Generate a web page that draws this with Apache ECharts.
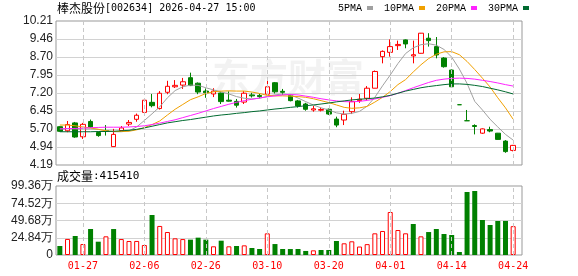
<!DOCTYPE html>
<html>
<head>
<meta charset="utf-8">
<script src="https://cdn.jsdelivr.net/npm/echarts@6/dist/echarts.min.js"></script>
<style>
  html, body { margin: 0; padding: 0; background: #fff; }
  #chart { width: 578px; height: 276px; }
</style>
</head>
<body>
<div id="chart"></div>
<script>
const dates = ['01-22','01-23','01-26','01-27','01-28','01-29','01-30','02-02','02-03','02-04',
  '02-05','02-06','02-09','02-10','02-11','02-12','02-13','02-24','02-25','02-26',
  '02-27','03-02','03-03','03-04','03-05','03-06','03-09','03-10','03-11','03-12',
  '03-13','03-16','03-17','03-18','03-19','03-20','03-23','03-24','03-25','03-26',
  '03-27','03-30','03-31','04-01','04-02','04-03','04-07','04-08','04-09','04-10',
  '04-13','04-14','04-15','04-16','04-17','04-20','04-21','04-22','04-23','04-24']
const opens = [5.79,5.62,5.95,5.37,6.01,5.55,5.63,4.96,5.63,5.90,
  6.10,6.39,6.81,6.55,7.23,7.46,7.53,7.84,7.61,7.28,
  7.16,7.20,6.90,6.85,6.82,7.12,7.10,7.15,7.63,7.27,
  7.10,6.87,6.74,6.49,6.48,6.52,6.11,6.07,6.42,6.88,
  6.98,7.40,8.72,8.90,9.18,9.42,8.75,8.86,9.49,9.14,
  8.66,8.16,6.71,6.04,5.84,5.52,5.67,5.52,5.19,4.80]
const closes = [5.60,5.88,5.36,5.89,5.78,5.42,5.59,5.47,5.74,5.97,
  6.27,6.90,6.67,7.19,7.48,7.52,7.67,7.51,7.24,7.21,
  7.28,6.84,6.86,6.69,7.19,7.08,7.05,7.46,7.25,7.23,
  6.88,6.66,6.52,6.54,6.51,6.32,5.86,6.31,6.84,6.94,
  7.40,8.10,8.94,9.14,9.23,9.25,8.80,9.70,9.39,8.79,
  8.30,7.46,6.71,6.04,5.80,5.70,5.61,5.26,4.75,5.01]
const lows = [5.58,5.56,5.33,5.28,5.74,5.37,5.42,4.95,5.62,5.82,
  6.00,6.38,6.60,6.51,7.15,7.41,7.37,7.49,7.15,7.00,
  7.03,6.74,6.84,6.59,6.74,7.01,6.98,7.12,7.18,7.12,
  6.85,6.59,6.46,6.42,6.43,6.28,5.77,5.86,6.32,6.79,
  6.91,7.40,8.44,8.72,9.00,9.07,8.44,8.85,9.14,8.65,
  8.26,7.45,6.71,6.04,5.47,5.49,5.56,5.25,4.70,4.76]
const highs = [5.81,6.03,5.99,5.95,6.09,5.59,5.86,5.70,5.82,6.07,
  6.34,6.92,7.16,7.28,7.71,7.74,7.83,8.05,7.64,7.39,
  7.40,7.22,7.27,6.95,7.28,7.21,7.17,7.77,7.66,7.37,
  7.14,6.91,6.79,6.66,6.59,6.55,6.21,6.46,7.02,7.16,
  7.49,8.14,8.98,9.44,9.39,9.44,9.39,9.71,9.70,9.54,
  8.70,8.18,6.71,6.49,5.89,5.72,5.79,5.53,5.23,5.03]
const vols = [129830,231470,273650,157920,374210,191580,268940,373860,229710,201640,
  202380,143950,576120,418330,330870,240150,229480,220960,249730,221340,
  125260,205870,124910,129640,138850,100770,86420,311960,157680,86150,
  85830,86370,58240,67190,71880,72340,201720,168350,197140,121860,
  156430,312270,345920,619180,359760,312440,446310,268850,330620,374080,
  302260,288190,43160,907340,921780,503870,432160,489950,490420,415410]
const ma5 = [5.70,5.71,5.70,5.69,5.70,5.68,5.62,5.58,5.58,5.62,
  5.78,6.05,6.33,6.62,7.00,7.30,7.46,7.53,7.52,7.42,
  7.33,7.25,7.16,7.05,6.98,6.95,6.98,7.06,7.12,7.16,
  7.12,6.99,6.84,6.70,6.58,6.49,6.37,6.32,6.35,6.43,
  6.65,7.02,7.50,7.95,8.43,8.85,9.09,9.22,9.26,9.20,
  9.02,8.70,8.20,7.60,6.85,6.49,6.10,5.78,5.47,5.23]
const ma10 = [5.86,5.86,5.83,5.78,5.74,5.68,5.62,5.59,5.59,5.60,
  5.66,5.75,5.88,6.03,6.28,6.52,6.72,6.92,7.04,7.18,
  7.25,7.28,7.29,7.28,7.28,7.24,7.18,7.10,7.08,7.08,
  7.07,7.05,7.02,6.96,6.88,6.80,6.70,6.60,6.56,6.58,
  6.64,6.82,7.02,7.26,7.55,7.76,8.08,8.38,8.64,8.82,
  8.92,8.93,8.80,8.52,8.18,7.82,7.45,7.00,6.58,6.10]
const ma20 = [5.70,5.71,5.72,5.73,5.75,5.76,5.77,5.77,5.77,5.78,
  5.80,5.83,5.88,5.94,6.01,6.08,6.17,6.26,6.35,6.45,
  6.55,6.64,6.73,6.81,6.88,6.94,6.99,7.04,7.08,7.12,
  7.14,7.12,7.07,7.02,6.96,6.91,6.87,6.84,6.83,6.85,
  6.89,6.95,7.02,7.09,7.19,7.30,7.42,7.53,7.64,7.73,
  7.78,7.81,7.82,7.81,7.78,7.73,7.68,7.62,7.55,7.49]
const ma30 = [5.58,5.58,5.58,5.58,5.58,5.59,5.59,5.60,5.62,5.64,
  5.68,5.74,5.81,5.88,5.95,6.00,6.05,6.09,6.14,6.19,
  6.24,6.28,6.31,6.35,6.38,6.42,6.45,6.49,6.53,6.56,
  6.60,6.63,6.67,6.70,6.74,6.78,6.83,6.87,6.91,6.94,
  6.96,6.99,7.04,7.10,7.19,7.28,7.35,7.42,7.47,7.51,
  7.55,7.58,7.58,7.56,7.52,7.47,7.40,7.33,7.25,7.16]
const priceTicks = ['4.19','4.94','5.70','6.45','7.20','7.95','8.70','9.46','10.21']
const volTicks = ['0','24.84万','49.68万','74.52万','99.36万']
const dateLabels = ['01-27','02-06','02-26','03-10','03-20','04-01','04-14','04-24']

const RED = '#ff0000'
const GREEN = '#008000'

const chart = echarts.init(document.getElementById('chart'))

const candleData = dates.map((d, i) => [opens[i], closes[i], lows[i], highs[i]])
// volume colour follows close vs previous close
const volData = vols.map((v, i) => {
  const prev = i > 0 ? closes[i - 1] : opens[i]
  const up = closes[i] >= prev
  return {
    value: v,
    itemStyle: up
      ? { color: '#fff', borderColor: RED, borderWidth: 1 }
      : { color: GREEN, borderColor: GREEN, borderWidth: 0 }
  }
})

const dashLines = {
  silent: true,
  symbol: 'none',
  label: { show: false },
  lineStyle: { color: '#c8c8c8', type: [4, 3], width: 1 },
  data: dateLabels.map(d => ({ xAxis: d }))
}

const tickFont = { color: '#222', fontSize: 12, fontFamily: 'Liberation Sans', margin: 3 }
const cjk = { fontFamily: 'Noto Sans CJK SC', fontSize: 12, fontWeight: 'normal', color: '#000' }

function maLine(name, data, color) {
  return {
    name: name,
    type: 'line',
    xAxisIndex: 1,
    yAxisIndex: 1,
    data: data,
    symbol: 'none',
    color: color,
    lineStyle: { width: 1, color: color }
  }
}

chart.setOption({
  animation: false,
  title: [{
    left: 57, top: 2, padding: 0,
    text: '{a|棒杰股份}{b|[002634] 2026-04-27 15:00}',
    textStyle: { fontWeight: 'normal', rich: {
      a: cjk,
      b: { fontFamily: 'DejaVu Sans Mono', fontSize: 10, fontWeight: 'normal', color: '#000' }
    } }
  }, {
    left: 57, top: 170, padding: 0,
    text: '{a|成交量}{b|:' + vols[vols.length - 1] + '}',
    textStyle: { fontWeight: 'normal', rich: {
      a: cjk,
      b: { fontFamily: 'DejaVu Sans Mono', fontSize: 11, fontWeight: 'normal', color: '#000' }
    } }
  }],
  legend: {
    left: 338, top: 3, padding: 0,
    align: 'right',
    icon: 'rect',
    itemWidth: 6, itemHeight: 4, itemGap: 11,
    textStyle: { fontFamily: 'Liberation Mono', fontSize: 10, color: '#000' },
    data: ['5PMA', '10PMA', '20PMA', '30PMA']
  },
  graphic: [{
    type: 'text', left: 212, top: 58, silent: true, z: 0,
    style: { text: '东方财富', font: 'bold 38px "Noto Sans CJK SC"', fill: 'rgba(0,0,0,0.05)' }
  }],
  grid: [
    { left: 56, top: 21, width: 466, height: 144, show: true, borderColor: '#999', borderWidth: 1 },
    { left: 56, top: 21, width: 461, height: 144 },
    { left: 56, top: 186, width: 466, height: 69, show: true, borderColor: '#999', borderWidth: 1 },
    { left: 56, top: 186, width: 461, height: 69 }
  ],
  xAxis: [
    { type: 'value', gridIndex: 0, min: 0, max: 1, show: false },
    { type: 'category', gridIndex: 1, data: dates, boundaryGap: true,
      axisLine: { show: false }, axisTick: { show: false }, axisLabel: { show: false }, splitLine: { show: false } },
    { type: 'value', gridIndex: 2, min: 0, max: 1, show: false },
    { type: 'category', gridIndex: 3, data: dates, boundaryGap: true,
      axisLine: { show: false }, axisTick: { show: false }, splitLine: { show: false },
      axisLabel: {
        interval: (i, v) => dateLabels.includes(v),
        color: RED, fontSize: 10, fontFamily: 'DejaVu Sans Mono', margin: 6
      } }
  ],
  yAxis: [
    { type: 'value', gridIndex: 0, min: 0, max: 8, interval: 1,
      axisLine: { show: false }, axisTick: { show: false },
      axisLabel: Object.assign({ formatter: v => priceTicks[Math.round(v)] }, tickFont),
      splitLine: { show: true, showMinLine: false, showMaxLine: false, lineStyle: { color: '#d2d2d2' } } },
    { type: 'value', gridIndex: 1, min: 4.19, max: 10.21, show: false },
    { type: 'value', gridIndex: 2, min: 0, max: 4, interval: 1,
      axisLine: { show: false }, axisTick: { show: false },
      axisLabel: Object.assign({ formatter: v => volTicks[Math.round(v)] }, tickFont),
      splitLine: { show: true, showMinLine: false, showMaxLine: false, lineStyle: { color: '#d2d2d2' } } },
    { type: 'value', gridIndex: 3, min: 0, max: 993600, show: false }
  ],
  series: [
    {
      type: 'candlestick',
      xAxisIndex: 1,
      yAxisIndex: 1,
      data: candleData,
      barWidth: 5,
      itemStyle: { color: '#fff', color0: GREEN, borderColor: RED, borderColor0: GREEN, borderWidth: 1 },
      markLine: dashLines
    },
    maLine('5PMA', ma5, '#a0a0a0'),
    maLine('10PMA', ma10, '#f0a000'),
    maLine('20PMA', ma20, '#ff22ff'),
    maLine('30PMA', ma30, '#006a30'),
    {
      type: 'bar',
      xAxisIndex: 3,
      yAxisIndex: 3,
      data: volData,
      barWidth: 5,
      markLine: dashLines
    }
  ]
})
</script>
</body>
</html>
